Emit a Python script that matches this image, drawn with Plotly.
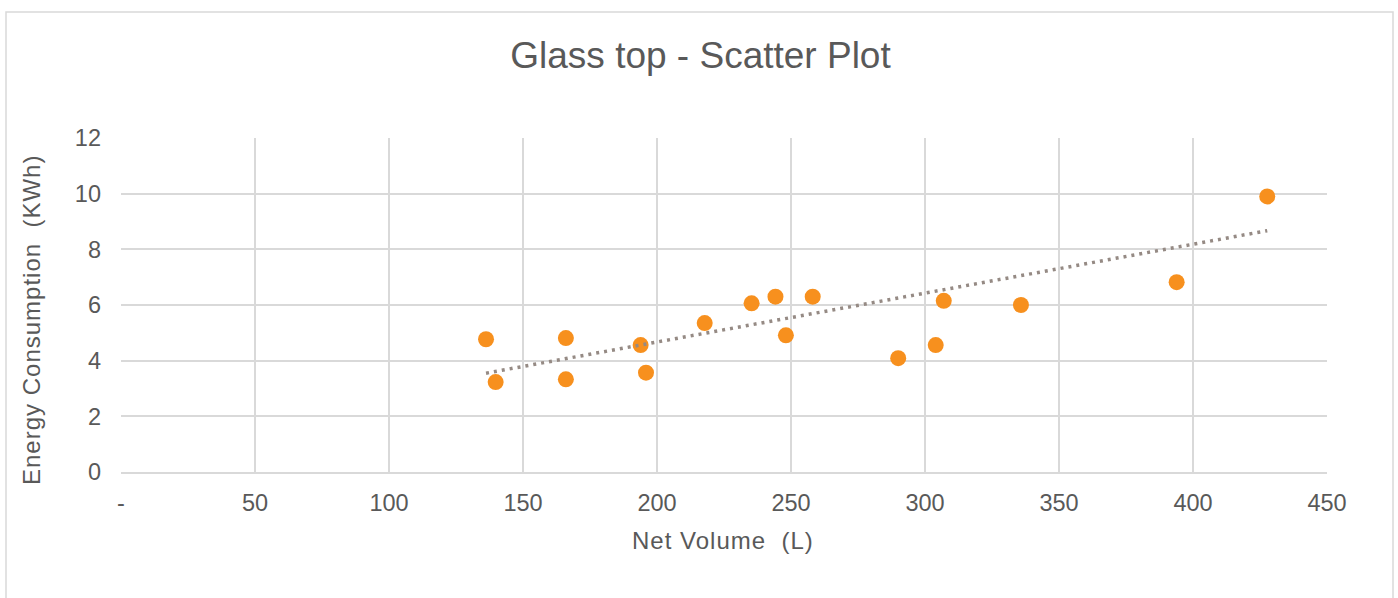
import plotly.graph_objects as go

# Data
net_volume = [136.2, 139.8, 166.0, 166.0, 193.9, 195.9, 217.8, 235.3, 244.2,
              248.1, 258.1, 290.0, 304.0, 307.0, 335.8, 393.9, 427.7]
energy_kwh = [4.77, 3.23, 4.81, 3.33, 4.56, 3.57, 5.35, 6.06, 6.30,
              4.91, 6.30, 4.09, 4.56, 6.15, 6.00, 6.82, 9.90]

# Linear trendline endpoints
trend_x = [136.2, 427.7]
trend_y = [3.55, 8.67]

x_tick_vals = [0, 50, 100, 150, 200, 250, 300, 350, 400, 450]
x_tick_text = ["-", "50", "100", "150", "200", "250", "300", "350", "400", "450"]
y_tick_vals = [0, 2, 4, 6, 8, 10, 12]

title_text = "Glass top - Scatter Plot"
x_title = "Net Volume\u00a0\u00a0(L)"
y_title = "Energy Consumption\u00a0\u00a0(KWh)"

W, H = 1398, 598
L = 121
T = 138
R = W - 1327
B = H - 472

fig = go.Figure()
fig.add_trace(go.Scatter(
    x=net_volume, y=energy_kwh, mode="markers",
    marker=dict(color="#F7901E", size=16, line=dict(width=0)),
    showlegend=False, hoverinfo="x+y"))
fig.add_trace(go.Scatter(
    x=trend_x, y=trend_y, mode="lines",
    line=dict(color="#958A84", width=3.5, dash="3px,5px"),
    showlegend=False, hoverinfo="skip"))

pw = W - L - R
ph = H - T - B
def pxx(px):  # page pixel x -> paper
    return (px - L) / pw
def pxy(py):  # page pixel y -> paper
    return (H - B - py) / ph

fig.add_shape(type="rect", xref="paper", yref="paper",
              x0=pxx(6), x1=pxx(1393), y0=pxy(620), y1=pxy(12),
              line=dict(color="#D9D9D9", width=1.5), fillcolor="rgba(0,0,0,0)",
              layer="below")

font_family = "Liberation Sans, Arial, sans-serif"
ls = '<span style="letter-spacing:1px">{}</span>'

fig.add_annotation(text=ls.format(x_title), xref="paper", yref="paper",
                   x=pxx(723), y=pxy(540), xanchor="center", yanchor="middle",
                   showarrow=False, font=dict(size=24, color="#595959", family=font_family))
fig.add_annotation(text=ls.format(y_title), xref="paper", yref="paper",
                   x=pxx(31), y=pxy(320), xanchor="center", yanchor="middle",
                   textangle=-90, showarrow=False,
                   font=dict(size=24, color="#595959", family=font_family))

fig.update_layout(
    width=W, height=H,
    margin=dict(l=L, r=R, t=T, b=B, autoexpand=False),
    paper_bgcolor="white", plot_bgcolor="white",
    font=dict(family=font_family, color="#595959"),
    title=dict(text=title_text, x=700.5 / W, xanchor="center", xref="container",
               y=1 - 55 / H, yanchor="middle", yref="container",
               font=dict(size=37, color="#595959", family=font_family)),
    xaxis=dict(range=[0, 450], tickvals=x_tick_vals, ticktext=x_tick_text,
               showgrid=True, gridcolor="#D9D9D9", gridwidth=1.5,
               showline=True, linecolor="#D9D9D9", linewidth=1.5,
               zeroline=False, ticks="", tickfont=dict(size=23.5, color="#595959"),
               ticklabelstandoff=9),
    yaxis=dict(range=[0, 12], tickvals=y_tick_vals,
               showgrid=True, gridcolor="#D9D9D9", gridwidth=1.5,
               showline=False, zeroline=False, ticks="",
               tickfont=dict(size=23.5, color="#595959"),
               ticklabelstandoff=19),
)

fig.write_html("out.html",
               config={"displayModeBar": False},
               post_script="document.body.style.margin='0px';document.body.style.overflow='hidden';")
